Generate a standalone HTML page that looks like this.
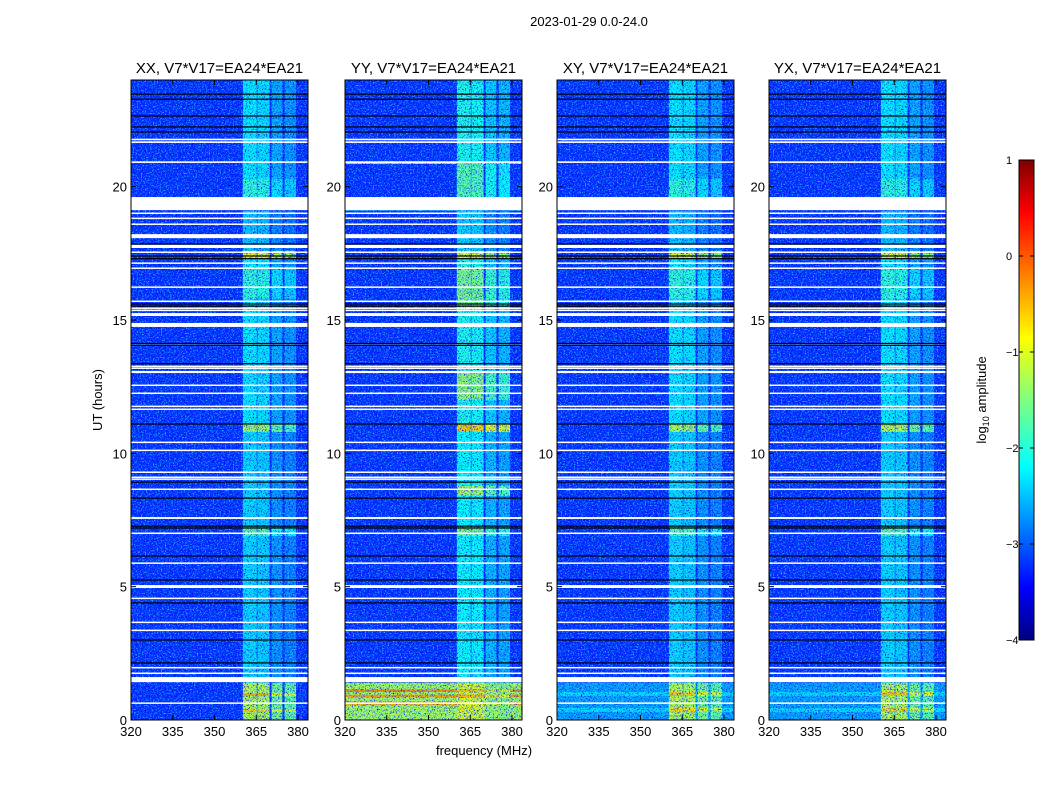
<!DOCTYPE html>
<html><head><meta charset="utf-8">
<style>
body{margin:0;background:#fff;}
svg{display:block;font-family:"Liberation Sans",sans-serif;}
</style></head>
<body>
<svg id="chart" width="1050" height="800" viewBox="0 0 1050 800">
<defs>
<filter id="nDark" x="0" y="0" width="100%" height="100%" filterUnits="userSpaceOnUse">
<feTurbulence type="fractalNoise" baseFrequency="0.75" numOctaves="2" seed="7"/>
<feColorMatrix type="matrix" values="0 0 0 0 0  0 0 0 0 0  0 0 0 0 0.75  4.5 0 0 0 -2.35"/>
</filter>
<filter id="nLight" x="0" y="0" width="100%" height="100%" filterUnits="userSpaceOnUse">
<feTurbulence type="fractalNoise" baseFrequency="0.75" numOctaves="2" seed="19"/>
<feColorMatrix type="matrix" values="0 0 0 0 0.05  0 0 0 0 0.75  0 0 0 0 1  0 4.5 0 0 -2.35"/>
</filter>
<linearGradient id="jet" x1="0" y1="1" x2="0" y2="0">
<stop offset="0" stop-color="#00007f"/><stop offset="0.11" stop-color="#0000ff"/>
<stop offset="0.36" stop-color="#00ffff"/><stop offset="0.5" stop-color="#7fff7f"/>
<stop offset="0.63" stop-color="#ffff00"/><stop offset="0.89" stop-color="#ff0000"/>
<stop offset="1" stop-color="#7f0000"/>
</linearGradient>
</defs>
<text x="589" y="26" font-size="13" text-anchor="middle">2023-01-29 0.0-24.0</text>
<text x="0" y="0" font-size="13" text-anchor="middle" transform="translate(102,400) rotate(-90)">UT (hours)</text>
<text x="484" y="755" font-size="13" text-anchor="middle">frequency (MHz)</text>
<g id="panels"></g>
<g>
<rect x="1019" y="160" width="15" height="480" fill="url(#jet)" stroke="#000"/>
<g id="cbticks"></g>
<text x="0" y="0" font-size="13" text-anchor="middle" transform="translate(986,400) rotate(-90)">log<tspan font-size="9" dy="3">10</tspan><tspan dy="-3"> amplitude</tspan></text>
</g>
</svg>
<script>
const titles = ["XX, V7*V17=EA24*EA21","YY, V7*V17=EA24*EA21","XY, V7*V17=EA24*EA21","YX, V7*V17=EA24*EA21"];
const freqTicks = [320,335,350,365,380];
const timeTicks = [0,5,10,15,20];
const cbTicks = [1,0,-1,-2,-3,-4];
const bands = [[360.2,365.2],[365.4,369.8],[370.5,374.4],[375.2,379.3]];
const bandOffset = [0,0.05,0.35,0.45];
const backgroundLevel = -3.15;
const whiteFlags = [[21.74,21.8],[21.64,21.7],[20.89,20.95],[19.12,19.61],[18.99,19.03],[18.8,18.84],[18.58,18.62],[18.07,18.22],[17.7,17.82],[17.53,17.57],[17.12,17.16],[16.93,16.97],[16.22,16.26],[15.69,15.73],[15.43,15.47],[15.35,15.39],[15.15,15.26],[14.74,14.89],[14.04,14.08],[13.25,13.29],[13.18,13.22],[13.01,13.09],[12.54,12.58],[12.24,12.28],[11.75,11.79],[11.64,11.68],[10.4,10.44],[10.1,10.14],[9.28,9.32],[9.09,9.13],[9.02,9.06],[8.64,8.68],[7.54,7.61],[6.99,7.03],[5.87,5.91],[4.95,5.06],[4.55,4.59],[3.65,3.69],[3.35,3.39],[1.95,1.99],[1.74,1.78],[1.42,1.61],[0.62,0.66]];
const blackLines = [23.47,23.28,22.65,22.24,22.05,17.85,17.3,17.4,15.52,15.6,14.12,14.05,13.36,11.1,8.92,8.32,7.27,7.2,6.15,5.25,4.39,3.0,2.14];
// segments: [t0, t1, bandLevel, fullWidthLevel or null]
const segXX = [[0,1.4,-1.2,null],[0.3,0.4,-0.6,null],[0.9,1.0,-0.5,null],[1.4,7,-2.3,null],[6.9,7.2,-1.7,null],[7.2,11,-2.3,null],[10.8,11.1,-1.3,null],[11.1,17.3,-2.2,null],[15.8,17.0,-1.9,null],[17.3,17.6,-0.9,null],[17.6,19.1,-2.4,null],[19.6,24,-2.2,null],[19.6,20.3,-1.9,null]];
const segYY = [[0,1.4,-1.0,-1.3],[0.55,0.7,-0.9,-0.5],[0.85,0.95,-0.5,-0.4],[1.05,1.15,-0.6,-0.3],[1.4,7,-2.1,null],[6.9,7.2,-1.5,null],[7.2,11,-2.1,null],[8.4,8.8,-1.3,null],[10.8,11.1,-0.6,null],[11.1,17.3,-2.0,null],[12.0,13.1,-1.4,null],[15.4,17.0,-1.5,null],[17.3,17.6,-1.0,null],[17.6,19.1,-2.3,null],[19.1,19.6,-2.4,-2.4],[19.6,24,-2.0,null],[19.6,20.9,-1.7,null],[20.85,20.95,-1.2,-1.2]];
const segXY = [[0,1.4,-1.2,-2.6],[0.3,0.45,-0.7,-2.3],[0.9,1.05,-0.6,-2.3],[1.4,7,-2.3,null],[6.9,7.2,-1.7,null],[7.2,11,-2.3,null],[10.8,11.1,-1.3,null],[11.1,17.3,-2.2,null],[15.8,17.0,-1.9,null],[17.3,17.6,-1.0,null],[17.6,19.1,-2.4,null],[19.6,24,-2.2,null],[19.6,20.3,-1.9,null]];
const segYX = [[0,1.4,-1.2,-2.6],[0.3,0.45,-0.7,-2.3],[0.9,1.05,-0.6,-2.3],[1.4,7,-2.3,null],[6.9,7.2,-1.7,null],[7.2,11,-2.3,null],[10.8,11.1,-1.2,null],[11.1,17.3,-2.2,null],[15.8,17.0,-1.9,null],[17.3,17.6,-1.0,null],[17.6,19.1,-2.4,null],[19.6,24,-2.2,null],[19.6,20.3,-1.9,null]];
const panelSegs = [segXX,segYY,segXY,segYX];
const panelX = [131,345,557,769];

const NS = "http://www.w3.org/2000/svg";
const PW = 177, PT = 80, PB = 720, FMIN = 320, FMAX = 383.6, TMAX = 24;
function jet(v){
  let t = (v+4)/5; t = Math.max(0,Math.min(1,t));
  const r = Math.max(0,Math.min(1,1.5-Math.abs(4*t-3)));
  const g = Math.max(0,Math.min(1,1.5-Math.abs(4*t-2)));
  const b = Math.max(0,Math.min(1,1.5-Math.abs(4*t-1)));
  return `rgb(${Math.round(r*255)},${Math.round(g*255)},${Math.round(b*255)})`;
}
function mk(tag, attrs, parent){
  const e = document.createElementNS(NS, tag);
  for (const k in attrs) e.setAttribute(k, attrs[k]);
  parent.appendChild(e); return e;
}
const panels = document.getElementById("panels");
panelX.forEach((x0, p) => {
  const xs = f => x0 + (f-FMIN)/(FMAX-FMIN)*PW;
  const ys = t => PB - t/TMAX*(PB-PT);
  const g = mk("g", {}, panels);
  
  
  const cp = mk("clipPath", {id:"clip"+p}, g);
  mk("rect", {x:x0,y:PT,width:PW,height:PB-PT}, cp);
  const hm = mk("g", {"clip-path":`url(#clip${p})`}, g);
  
  
  mk("rect", {x:x0,y:PT,width:PW,height:PB-PT,fill:jet(backgroundLevel)}, hm);
  panelSegs[p].forEach(s => {
    if (s[3] !== null) {
      const r = mk("rect", {x:x0,y:ys(s[1]),width:PW,height:ys(s[0])-ys(s[1]),fill:jet(s[3])}, hm);
      
      
    }
    bands.forEach((b, i) => {
      const r = mk("rect", {x:xs(b[0]),y:ys(s[1]),width:xs(b[1])-xs(b[0]),height:ys(s[0])-ys(s[1]),fill:jet(s[2]-bandOffset[i])}, hm);
      
      
    });
  });
  mk("rect", {x:x0,y:PT,width:PW,height:PB-PT,filter:"url(#nDark)"}, hm);
  mk("rect", {x:x0,y:PT,width:PW,height:PB-PT,filter:"url(#nLight)",opacity:"0.8"}, hm);
  whiteFlags.forEach(w => {
    const r = mk("rect", {x:x0,y:ys(w[1]),width:PW,height:Math.max(1.5,ys(w[0])-ys(w[1])),fill:"#fff"}, hm);
    
    
  });
  blackLines.forEach(t => {
    const r = mk("rect", {x:x0,y:ys(t)-0.6,width:PW,height:1.2,fill:"#000"}, hm);
    
    
  });
  const fr = mk("rect", {x:x0,y:PT,width:PW,height:PB-PT,fill:"none",stroke:"#000","stroke-width":1}, g);
  
  
  const tt = mk("text", {x:x0+PW/2,y:PT-7,"font-size":15,"text-anchor":"middle"}, g);
  tt.textContent = titles[p];
  
  
  freqTicks.forEach(f => {
    const x = xs(f);
    mk("line", {x1:x,x2:x,y1:PB,y2:PB-5,stroke:"#000"}, g);
    mk("line", {x1:x,x2:x,y1:PT,y2:PT+5,stroke:"#000"}, g);
    const l = mk("text", {x:x,y:PB+16,"font-size":13,"text-anchor":"middle"}, g);
    l.textContent = f;
    
    
  });
  timeTicks.forEach(t => {
    const y = ys(t);
    mk("line", {x1:x0,x2:x0+5,y1:y,y2:y,stroke:"#000"}, g);
    mk("line", {x1:x0+PW,x2:x0+PW-5,y1:y,y2:y,stroke:"#000"}, g);
    const l = mk("text", {x:x0-4,y:y+5,"font-size":13,"text-anchor":"end"}, g);
    l.textContent = t;
    
    
  });
});
const cb = document.getElementById("cbticks");
cbTicks.forEach(v => {
  const y = 640 - (v+4)/5*480;
  mk("line", {x1:1019,x2:1023,y1:y,y2:y,stroke:"#000"}, cb);
  mk("line", {x1:1034,x2:1030,y1:y,y2:y,stroke:"#000"}, cb);
  const l = mk("text", {x:1006,y:y+4,"font-size":11,"text-anchor":"start"}, cb);
  l.textContent = v < 0 ? "\u2212" + (-v) : v;
  
  
});
</script>
</body></html>
